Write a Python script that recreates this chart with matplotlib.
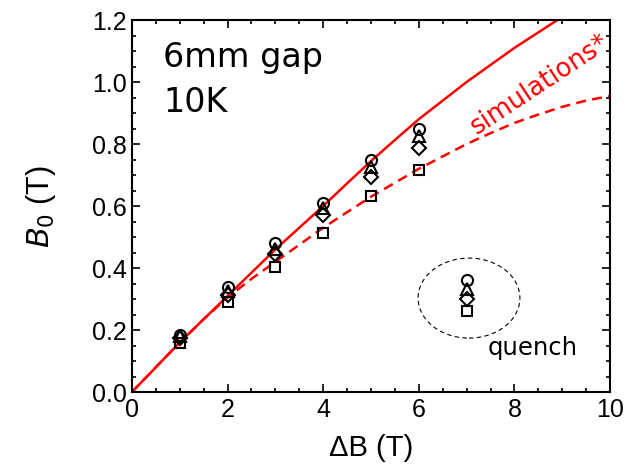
import numpy as np
import matplotlib.pyplot as plt
from matplotlib.patches import Ellipse

# measured B0 (T) vs applied field change dB (T), four sensor positions
dB = [1, 2, 3, 4, 5, 6]
b_circle = [0.185, 0.339, 0.480, 0.610, 0.748, 0.848]
b_triangle = [0.180, 0.326, 0.461, 0.594, 0.726, 0.826]
b_diamond = [0.175, 0.313, 0.445, 0.571, 0.694, 0.787]
b_square = [0.158, 0.290, 0.403, 0.513, 0.632, 0.716]

# quench points at 7 T
dB_q = [7, 7, 7, 7]
b_q = [0.361, 0.332, 0.300, 0.261]

# simulations
sim_x = [0, 0.5, 1, 1.5, 2, 2.5, 3, 3.5, 4, 4.5, 5, 5.5, 6, 6.5, 7, 7.5, 8, 8.5, 9, 9.5, 10]
sim_solid = [0.0, 0.08, 0.16, 0.235, 0.31, 0.385, 0.46, 0.53, 0.60, 0.673, 0.745, 0.813, 0.88, 0.94, 1.0, 1.055, 1.11, 1.16, 1.21, 1.255, 1.30]
sim_dashed = [0.0, 0.08, 0.16, 0.235, 0.305, 0.365, 0.42, 0.475, 0.53, 0.58, 0.63, 0.675, 0.72, 0.76, 0.80, 0.835, 0.868, 0.895, 0.92, 0.94, 0.955]

plt.rcParams['font.family'] = ['Liberation Sans', 'DejaVu Sans']
note_font = ['DejaVu Sans']

fig = plt.figure(figsize=(6.33, 4.73), dpi=100)
ax = fig.add_axes([0.2085, 0.1712, 0.7552, 0.7865])

ax.plot(sim_x, sim_solid, color='red', lw=1.8)
ax.plot(sim_x, sim_dashed, color='red', lw=1.8, ls=(0, (4, 2.5)))

mk = dict(ls='none', mfc='none', mec='black', mew=1.5, ms=8, clip_on=False)
ax.plot(dB, b_circle, marker='o', **mk)
ax.plot(dB, b_triangle, marker='^', **mk)
ax.plot(dB, b_diamond, marker='D', **dict(mk, ms=7))
ax.plot(dB, b_square, marker='s', **dict(mk, ms=7))

ax.plot(dB_q[0], b_q[0], marker='o', **mk)
ax.plot(dB_q[1], b_q[1], marker='^', **mk)
ax.plot(dB_q[2], b_q[2], marker='D', **dict(mk, ms=7))
ax.plot(dB_q[3], b_q[3], marker='s', **dict(mk, ms=7))

ax.add_patch(Ellipse((7.05, 0.303), 2.13, 0.258, fill=False, ec='black', lw=0.8, ls=(0, (4, 3))))

ax.text(0.065, 0.874, '6mm gap', transform=ax.transAxes, fontsize=24, family=note_font, va='baseline')
ax.text(0.065, 0.753, '10K', transform=ax.transAxes, fontsize=24, family=note_font, va='baseline')
ax.text(8.54, 0.99, 'simulations*', color='red', fontsize=18.5, rotation=33.5, family=note_font,
        ha='center', va='center', rotation_mode='anchor')
ax.text(7.43, 0.119, 'quench', fontsize=17.5, family=note_font, ha='left', va='baseline')

ax.set_xlim(0, 10)
ax.set_ylim(0, 1.2)
ax.set_xticks([0, 2, 4, 6, 8, 10])
ax.set_yticks([0.0, 0.2, 0.4, 0.6, 0.8, 1.0, 1.2])
ax.set_yticklabels(['0.0', '0.2', '0.4', '0.6', '0.8', '1.0', '1.2'])
ax.set_xticks(np.arange(0, 10.01, 0.5), minor=True)
ax.set_yticks(np.arange(0, 1.201, 0.05), minor=True)
ax.tick_params(which='both', direction='in', top=True, right=True, labelsize=18, width=1.2, pad=4)
ax.tick_params(which='major', length=6)
ax.tick_params(which='minor', length=3)
for s in ax.spines.values():
    s.set_linewidth(1.5)

ax.set_xlabel('ΔB (T)', fontsize=21, labelpad=9)
ax.set_ylabel('$B_0$ (T)', fontsize=22, labelpad=24)

fig.savefig('out.png', dpi=100)
